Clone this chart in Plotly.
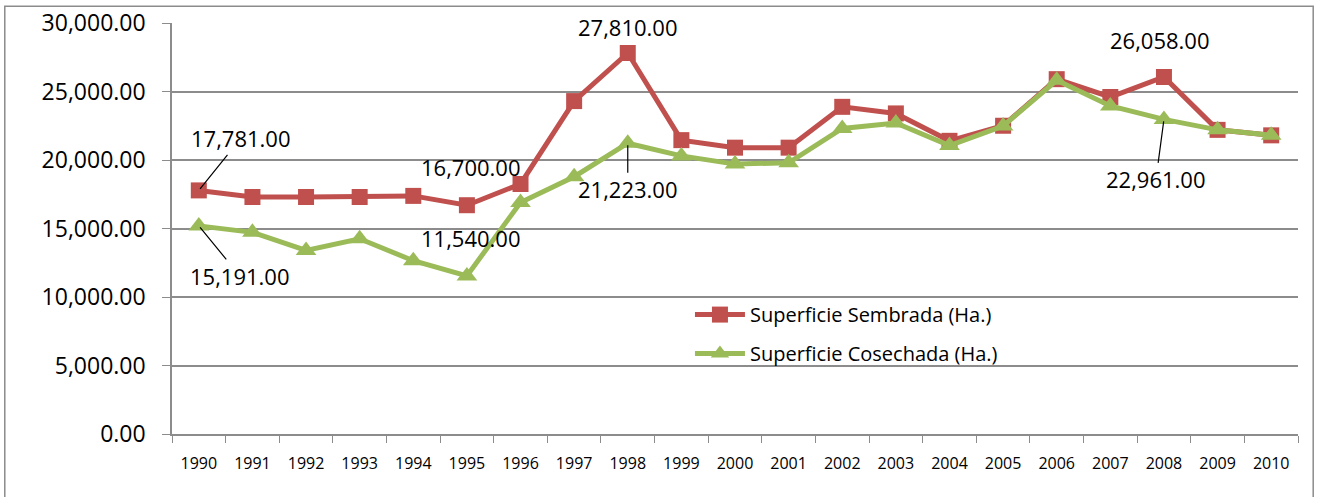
# -*- coding: utf-8 -*-

"""
Superficie sembrada y cosechada (Ha.), 1990 - 2010.
"""

import plotly.graph_objects as go

# -----------------------------------------------------------------------------
#                               Data
# -----------------------------------------------------------------------------

years = [str(y) for y in range(1990, 2011)]

sembrada = [17781, 17300, 17300, 17300, 17380, 16700, 18250, 24300, 27810,
            21450, 20900, 20900, 23880, 23400, 21400, 22500, 25900, 24600,
            26058, 22200, 21800]

cosechada = [15191, 14720, 13400, 14250, 12650, 11540, 16900, 18780, 21223,
             20300, 19700, 19800, 22300, 22700, 21050, 22480, 25820, 23950,
             22961, 22200, 21800]

names = ["Superficie Sembrada (Ha.)", "Superficie Cosechada (Ha.)"]
y_ticks = [0, 5000, 10000, 15000, 20000, 25000, 30000]

FONT = "Open Sans, Noto Sans, sans-serif"
GRID = "#8c8c8c"


def add_label(fig, values, idx, xshift=0, yshift=0, ax=None, ay=None):
    """Data label, with a leader line when ax/ay are given."""
    # category index instead of the name: "1990" would be read as a number
    a = dict(x=idx, y=values[idx], xref="x", yref="y",
             text=f"{values[idx]:,.2f}",
             font=dict(family=FONT, size=22, color="#000000"))
    if ax is None:
        a.update(showarrow=False, xshift=xshift, yshift=yshift)
    else:
        a.update(showarrow=True, arrowhead=0, arrowwidth=1.2,
                 arrowcolor="#000000", ax=ax, ay=ay, standoff=2)
    fig.add_annotation(**a)


fig = go.Figure()

fig.add_trace(go.Scatter(
    x=years, y=sembrada, name=names[0], mode="lines+markers",
    legendgroup="s",
    line=dict(color="#C0504D", width=5),
    marker=dict(symbol="square", size=16, color="#C0504D")))

fig.add_trace(go.Scatter(
    x=years, y=cosechada, name=names[1], mode="lines+markers",
    legendgroup="c",
    line=dict(color="#9BBB59", width=5),
    marker=dict(symbol="triangle-up", size=18, color="#9BBB59")))

add_label(fig, sembrada, 0, ax=42, ay=-52)
add_label(fig, cosechada, 0, ax=41, ay=50)
add_label(fig, sembrada, 5, xshift=4, yshift=38)
add_label(fig, cosechada, 5, xshift=4, yshift=38)
add_label(fig, sembrada, 8, yshift=26)
add_label(fig, cosechada, 8, ax=0, ay=46)
add_label(fig, sembrada, 18, xshift=-4, yshift=37)
add_label(fig, cosechada, 18, ax=-8, ay=60)

# outer chart border (Excel style frame)
fig.add_shape(type="rect", xref="paper", yref="paper",
              x0=-0.1485, x1=1.0135, y0=-0.2, y1=1.041,
              line=dict(color="#8c8c8c", width=1.5), layer="below")

fig.update_xaxes(
    type="category", tickson="boundaries", ticks="outside", ticklen=7,
    tickcolor=GRID, showline=True, linecolor=GRID, linewidth=1.5,
    showgrid=False, automargin=False, ticklabelstandoff=14,
    tickfont=dict(family=FONT, size=16, color="#000000"),
    range=[-0.5, len(years) - 0.5])

fig.update_yaxes(
    range=[0, 30000], tickvals=y_ticks, tickformat=",.2f",
    ticks="outside", ticklen=8, tickcolor=GRID,
    showline=True, linecolor=GRID, linewidth=1.5, automargin=False,
    showgrid=True, gridcolor=GRID, gridwidth=1.5, zeroline=False,
    ticklabelstandoff=12,
    tickfont=dict(family=FONT, size=23, color="#000000"))

fig.update_layout(
    width=1325, height=497,
    margin=dict(l=172, r=27, t=23, b=63),
    plot_bgcolor="white", paper_bgcolor="white",
    legend=dict(x=0.46, y=0.338, xanchor="left", yanchor="top",
                bgcolor="rgba(0,0,0,0)", tracegroupgap=10, itemwidth=50,
                font=dict(family=FONT, size=20, color="#000000")),
    showlegend=True)

# no default page margin, so the figure sits at the window corner
fig.write_html("out.html", config={"displayModeBar": False},
               post_script="document.body.style.margin='0px';")
